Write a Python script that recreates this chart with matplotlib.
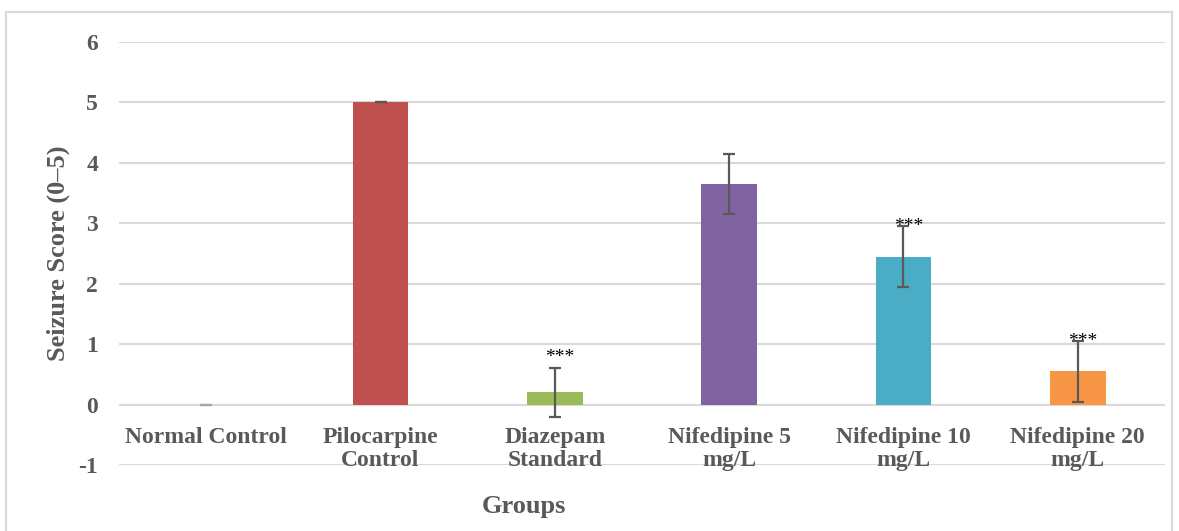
import matplotlib.pyplot as plt
from matplotlib.patches import Rectangle

# Seizure score per group (mean +/- error)
groups = ["Normal Control", "Pilocarpine\nControl", "Diazepam\nStandard",
          "Nifedipine 5\nmg/L", "Nifedipine 10\nmg/L", "Nifedipine 20\nmg/L"]
scores = [0.0, 5.0, 0.2, 3.65, 2.45, 0.55]
errors = [0.0, 0.0, 0.4, 0.49, 0.5, 0.5]
stars = ["", "", "***", "", "***", "***"]
bar_colors = ["#4F81BD", "#C0504D", "#9BBB59", "#8064A2", "#4BACC6", "#F79646"]
star_shift = [0, 0, 8, 0, 0, 0]  # points above the error cap
yticks = list(range(-1, 7))

plt.rcParams['font.family'] = ['Liberation Serif', 'DejaVu Serif']
plt.rcParams['axes.unicode_minus'] = False
text_gray = "#595959"

fig = plt.figure(figsize=(11.79, 5.31), dpi=100)
fig.patches.append(Rectangle((6 / 1179, -0.05), 1166 / 1179, 1.05 - 12 / 531,
                             transform=fig.transFigure, fill=False,
                             edgecolor="#D9D9D9", linewidth=1.5))
ax = fig.add_axes([0.101, 0.1243, 0.887, 0.7966])

# horizontal grid as plain lines so the category labels sit on top of it
for t in yticks:
    ax.axhline(t, color="#D9D9D9", linewidth=1.5, zorder=0)

x = range(len(groups))
ax.bar(x, scores, width=0.32, color=bar_colors, zorder=2)
err_colors = ["#A6A6A6"] + [text_gray] * (len(groups) - 1)
for i in x:
    ax.errorbar(i, scores[i], yerr=errors[i], fmt="none", ecolor=err_colors[i],
                elinewidth=1.6, capsize=4.5, capthick=1.6, zorder=3)

for i, s in enumerate(stars):
    if s:
        ax.annotate(s, (i + 0.03, scores[i] + errors[i]), xytext=(0, star_shift[i]),
                    textcoords="offset points", ha="center", va="center",
                    fontsize=14, color="black")

ax.set_xlim(-0.5, len(groups) - 0.5)
ax.set_ylim(-1, 6)
ax.set_yticks(yticks)
ax.set_axisbelow(True)

# category labels hang just under the zero line
ax.spines['bottom'].set_position(('data', 0))
for sp in ax.spines.values():
    sp.set_visible(False)
ax.set_xticks(list(x))
ax.set_xticklabels(groups, fontsize=17, fontweight="bold", color=text_gray,
                   linespacing=1.15)
ax.tick_params(axis="x", length=0, pad=16)
ax.tick_params(axis="y", length=0, pad=15, labelsize=17, labelcolor=text_gray)
for lab in ax.get_yticklabels():
    lab.set_fontweight("bold")

ax.set_ylabel("Seizure Score (0\u20135)", fontsize=19, fontweight="bold",
              color=text_gray, labelpad=6)
fig.text(524 / 1179, 1 - 506 / 531, "Groups", fontsize=19, fontweight="bold",
         color=text_gray, ha="center", va="center")

fig.savefig("out.png", dpi=100)
